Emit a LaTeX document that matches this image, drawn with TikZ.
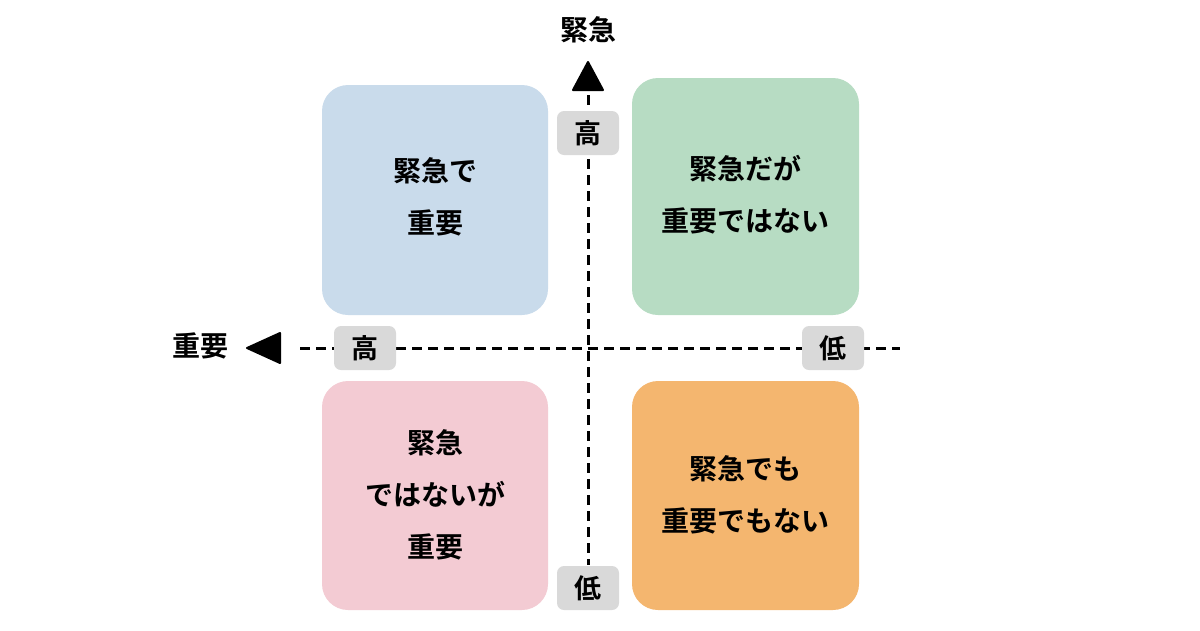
\documentclass[tikz,border=0pt]{standalone}
\usepackage{fontspec}
\newfontfamily\jp{Noto Sans CJK JP Bold}
\begin{document}
\begin{tikzpicture}[x=1pt,y=-1pt,
  quad/.style={rounded corners=26pt,inner sep=0pt,align=center,font=\jp\fontsize{28}{52}\selectfont},
  tag/.style={fill=tagc,rounded corners=7pt,minimum width=62pt,minimum height=44pt,inner sep=0pt,font=\jp\fontsize{27}{30}\selectfont},
  axis/.style={line width=3pt,dash pattern=on 10pt off 6pt},
  head/.style={fill=black,draw=black,line width=2pt,line join=round},
  lab/.style={font=\jp\fontsize{28}{30}\selectfont}]
\definecolor{bl}{HTML}{C9DBEB}\definecolor{gr}{HTML}{B7DCC3}
\definecolor{pk}{HTML}{F3CBD3}\definecolor{orc}{HTML}{F4B66F}
\definecolor{tagc}{HTML}{D9D9D9}
\useasboundingbox (0,0) rectangle (1200,630);
\fill[bl,rounded corners=26pt] (322,85) rectangle (548,315);
\fill[gr,rounded corners=26pt] (632,78) rectangle (859,315);
\fill[pk,rounded corners=26pt] (322,381) rectangle (548,610);
\fill[orc,rounded corners=26pt] (632,381) rectangle (859,610);
\node[quad] (q1) at (435,197) {緊急で\\重要};
\node[quad] (q2) at (745,195) {緊急だが\\重要ではない};
\node[quad] (q3) at (435,495) {緊急\\ではないが\\重要};
\node[quad] (q4) at (745,495) {緊急でも\\重要でもない};
\coordinate (vt) at (588,95); \coordinate (vb) at (588,565);
\coordinate (hl) at (300,348); \coordinate (hr) at (900,348);
\draw[axis] (vt) -- (vb);
\draw[axis] (hl) -- (hr);
\draw[head] (588,62) -- (573,90) -- (603,90) -- cycle;
\draw[head] (247,348) -- (280,333) -- (280,363) -- cycle;
\node[lab] (yl) at (588,30) {緊急};
\node[lab] (xl) at (200,346) {重要};
\node[tag] (t1) at (588,133) {高};
\node[tag] (t2) at (365,348) {高};
\node[tag] (t3) at (833,348) {低};
\node[tag] (t4) at (588,588) {低};
\end{tikzpicture}
\end{document}
